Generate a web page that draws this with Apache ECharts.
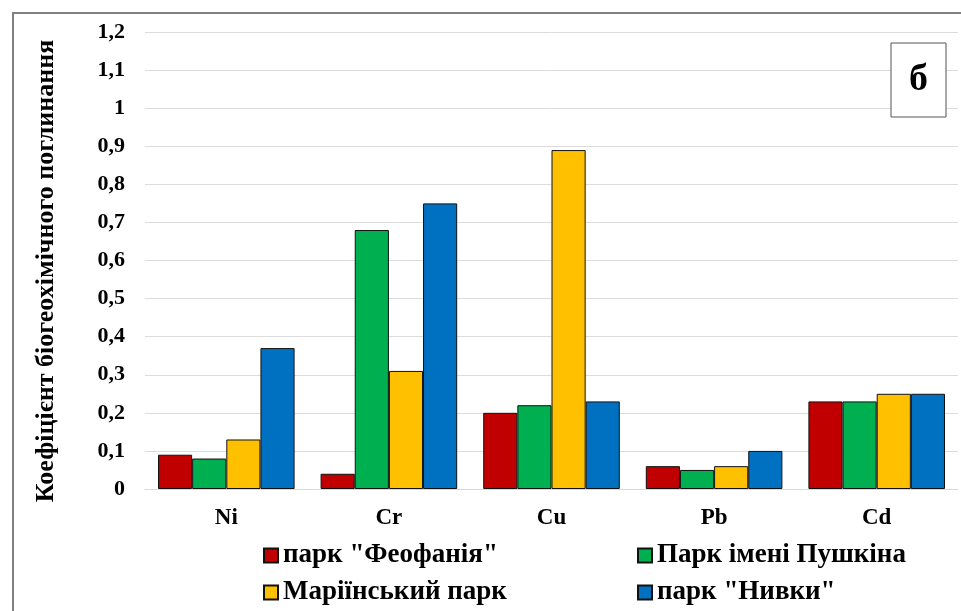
<!DOCTYPE html>
<html>
<head>
<meta charset="utf-8">
<script src="https://cdn.jsdelivr.net/npm/echarts@6/dist/echarts.min.js"></script>
<style>
html,body{margin:0;padding:0;background:#fff;}
#chart{width:961px;height:611px;}
</style>
</head>
<body>
<div id="chart"></div>
<script>
const categories = ['Ni', 'Cr', 'Cu', 'Pb', 'Cd'];
const seriesNames = ['парк "Феофанія"', 'Парк імені Пушкіна', 'Маріїнський парк', 'парк "Нивки"'];
const feofania = [0.09, 0.04, 0.20, 0.06, 0.23];
const pushkina = [0.08, 0.68, 0.22, 0.05, 0.23];
const mariinsky = [0.13, 0.31, 0.89, 0.06, 0.25];
const nyvky = [0.37, 0.75, 0.23, 0.10, 0.25];
const yTickLabels = ['0', '0,1', '0,2', '0,3', '0,4', '0,5', '0,6', '0,7', '0,8', '0,9', '1', '1,1', '1,2'];
const colors = ['#c00000', '#00b050', '#ffc000', '#0070c0'];
const yTitle = 'Коефіцієнт біогеохімічного поглинання';
const panelLabel = 'б';

const font = '"Liberation Serif", "DejaVu Serif", serif';
const values = [feofania, pushkina, mariinsky, nyvky];
const legendPos = [[263, 542], [637, 542], [263, 579], [637, 579]];

const chart = echarts.init(document.getElementById('chart'));
chart.setOption({
  animation: false,
  backgroundColor: '#fff',
  grid: { left: 145, right: 3, top: 32, bottom: 122 },
  xAxis: {
    type: 'category',
    data: categories,
    axisLine: { show: true, lineStyle: { color: '#d9d9d9' } },
    axisTick: { show: false },
    axisLabel: { color: '#000', fontFamily: font, fontWeight: 'bold', fontSize: 23, margin: 18 }
  },
  yAxis: {
    type: 'value',
    min: 0, max: 1.2, interval: 0.1,
    axisLine: { show: false },
    axisTick: { show: false },
    splitLine: { lineStyle: { color: '#dcdcdc', width: 1 } },
    axisLabel: {
      color: '#000', fontFamily: font, fontWeight: 'bold', fontSize: 22, margin: 20,
      formatter: function (v) { return yTickLabels[Math.round(v * 10)]; }
    }
  },
  legend: seriesNames.map(function (n, i) {
    return {
      data: [n],
      left: legendPos[i][0], top: legendPos[i][1],
      padding: 0,
      itemWidth: 14, itemHeight: 14,
      icon: 'rect',
      textStyle: { color: '#000', fontFamily: font, fontWeight: 'bold', fontSize: 27 }
    };
  }),
  graphic: [
    { type: 'line', shape: { x1: 12, y1: 13, x2: 961, y2: 13 }, style: { stroke: '#808080', lineWidth: 2 } },
    { type: 'line', shape: { x1: 13, y1: 12, x2: 13, y2: 611 }, style: { stroke: '#808080', lineWidth: 2 } },
    { type: 'rect', shape: { x: 891, y: 43, width: 55, height: 74 }, style: { fill: '#fff', stroke: '#555', lineWidth: 1 }, z: 10 },
    { type: 'text', x: 918.5, y: 80, style: { text: panelLabel, fill: '#000', font: 'bold 38px ' + font, textAlign: 'center', textVerticalAlign: 'middle' }, z: 11 },
    { type: 'text', x: 46, y: 271, rotation: Math.PI / 2, style: { text: yTitle, fill: '#000', font: 'bold 26px ' + font, textAlign: 'center', textVerticalAlign: 'middle' } }
  ],
  series: values.map(function (vals, i) {
    return {
      name: seriesNames[i],
      type: 'bar',
      data: vals,
      barGap: '0%',
      barCategoryGap: '16%',
      itemStyle: { color: colors[i], borderColor: '#111', borderWidth: 1 }
    };
  })
});
</script>
</body>
</html>
